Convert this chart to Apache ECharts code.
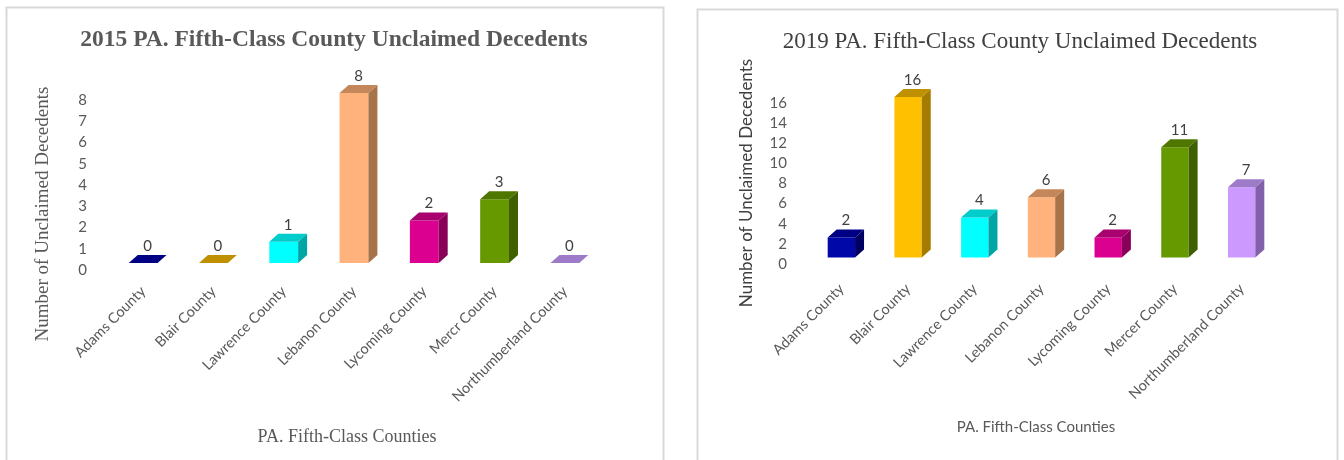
<!DOCTYPE html>
<html>
<head>
<meta charset="utf-8">
<script src="https://cdn.jsdelivr.net/npm/echarts@6/dist/echarts.min.js"></script>
<style>
  html, body { margin: 0; padding: 0; background: #ffffff; }
  #chart { width: 1344px; height: 460px; }
</style>
</head>
<body>
<div id="chart"></div>
<script>
// Unclaimed decedents in Pennsylvania fifth-class counties
const counties2015 = ['Adams County', 'Blair County', 'Lawrence County', 'Lebanon County', 'Lycoming County', 'Mercr County', 'Northumberland County'];
const decedents2015 = [0, 0, 1, 8, 2, 3, 0];
const yMax2015 = 8;
const yStep2015 = 1;

const counties2019 = ['Adams County', 'Blair County', 'Lawrence County', 'Lebanon County', 'Lycoming County', 'Mercer County', 'Northumberland County'];
const decedents2019 = [2, 16, 4, 6, 2, 11, 7];
const yMax2019 = 16;
const yStep2019 = 2;

// per-county face colours of the 3D columns: front, top, side
const frontColors = ['#0008a8', '#ffc000', '#00ffff', '#ffb27c', '#db0090', '#669900', '#cc99ff'];
const topColors   = ['#000084', '#bf9000', '#00cccc', '#c4875a', '#a8006e', '#4e7700', '#9e7bc9'];
const sideColors  = ['#000062', '#a67c00', '#00a5a5', '#a6734a', '#880058', '#3f6000', '#8261aa'];

const SERIF = '"Liberation Serif", "Times New Roman", serif';
const SANS = 'Lato, "Open Sans", sans-serif';

// draws one pseudo-3D column: front rectangle, top and right side faces, value label
function columnRenderer(depthX, depthY) {
  return function (params, api) {
    const idx = api.value(0);
    const val = api.value(1);
    const base = api.coord([idx, 0]);
    const top = api.coord([idx, val]);
    const band = api.size([1, 0])[0];
    const w = band * 0.41;
    const xl = base[0] - w / 2;
    const xr = base[0] + w / 2;
    const yb = base[1];
    const yt = top[1];
    const children = [];
    if (yb - yt > 0.5) {
      children.push({
        type: 'rect',
        shape: { x: xl, y: yt, width: w, height: yb - yt },
        style: { fill: frontColors[idx] }
      });
      children.push({
        type: 'polygon',
        shape: { points: [[xr, yt], [xr + depthX, yt - depthY], [xr + depthX, yb - depthY], [xr, yb]] },
        style: { fill: sideColors[idx] }
      });
    }
    children.push({
      type: 'polygon',
      shape: { points: [[xl, yt], [xl + depthX, yt - depthY], [xr + depthX, yt - depthY], [xr, yt]] },
      style: { fill: topColors[idx] }
    });
    children.push({
      type: 'text',
      style: {
        text: String(val),
        x: base[0] + depthX / 2,
        y: yt - 17,
        align: 'center',
        verticalAlign: 'middle',
        fontFamily: SANS,
        fontSize: 15,
        fill: '#404040'
      }
    });
    return { type: 'group', children: children };
  };
}

function hiddenCategoryAxis(gridIndex, cats) {
  return { type: 'category', gridIndex: gridIndex, data: cats, show: false };
}

const chart = echarts.init(document.getElementById('chart'), null, { renderer: 'canvas' });

chart.setOption({
  animation: false,
  backgroundColor: '#ffffff',
  grid: [
    // columns, 2015
    { left: 108, right: 744, top: 93, bottom: 197 },
    // value scale, 2015
    { left: 108, right: 744, top: 100, bottom: 190 },
    // columns, 2019
    { left: 808, right: 69, top: 97, bottom: 202.5 },
    // value scale, 2019
    { left: 808, right: 69, top: 103, bottom: 196 }
  ],
  xAxis: [
    {
      type: 'category', gridIndex: 0, data: counties2015,
      axisLine: { show: false }, axisTick: { show: false },
      axisLabel: { rotate: 45, margin: 26, interval: 0, fontFamily: SANS, fontSize: 14.5, color: '#595959' }
    },
    hiddenCategoryAxis(1, counties2015),
    {
      type: 'category', gridIndex: 2, data: counties2019,
      axisLine: { show: false }, axisTick: { show: false },
      axisLabel: { rotate: 45, margin: 29, interval: 0, fontFamily: SANS, fontSize: 14.5, color: '#595959' }
    },
    hiddenCategoryAxis(3, counties2019)
  ],
  yAxis: [
    { type: 'value', gridIndex: 0, min: 0, max: yMax2015, interval: yStep2015, show: false },
    {
      type: 'value', gridIndex: 1, min: 0, max: yMax2015, interval: yStep2015,
      axisLine: { show: false }, axisTick: { show: false }, splitLine: { show: false },
      axisLabel: { margin: 21, fontFamily: SANS, fontSize: 15, color: '#595959' }
    },
    { type: 'value', gridIndex: 2, min: 0, max: yMax2019, interval: yStep2019, show: false },
    {
      type: 'value', gridIndex: 3, min: 0, max: yMax2019, interval: yStep2019,
      axisLine: { show: false }, axisTick: { show: false }, splitLine: { show: false },
      axisLabel: { margin: 21, fontFamily: SANS, fontSize: 15, color: '#595959' }
    }
  ],
  series: [
    {
      type: 'custom', name: '2015', xAxisIndex: 0, yAxisIndex: 0,
      renderItem: columnRenderer(9, 8),
      encode: { x: 0, y: 1 },
      data: decedents2015.map((v, i) => [i, v])
    },
    {
      type: 'custom', name: '2019', xAxisIndex: 2, yAxisIndex: 2,
      renderItem: columnRenderer(9, 8),
      encode: { x: 0, y: 1 },
      data: decedents2019.map((v, i) => [i, v])
    }
  ],
  graphic: [
    // panel frames
    { type: 'rect', shape: { x: 6.5, y: 7.5, width: 657, height: 470 }, style: { fill: 'none', stroke: '#d9d9d9', lineWidth: 2 } },
    { type: 'rect', shape: { x: 697.5, y: 9.5, width: 640, height: 470 }, style: { fill: 'none', stroke: '#d9d9d9', lineWidth: 2 } },
    // 2015 panel texts
    { type: 'text', x: 334, y: 40, style: { text: '2015 PA. Fifth-Class County Unclaimed Decedents', align: 'center', verticalAlign: 'middle', fontFamily: SERIF, fontWeight: 'bold', fontSize: 23.5, fill: '#595959' } },
    { type: 'text', x: 43, y: 214, rotation: Math.PI / 2, style: { text: 'Number of Unclaimed Decedents', align: 'center', verticalAlign: 'middle', fontFamily: SERIF, fontSize: 19, fill: '#595959' } },
    { type: 'text', x: 347, y: 437, style: { text: 'PA. Fifth-Class Counties', align: 'center', verticalAlign: 'middle', fontFamily: SERIF, fontSize: 18, fill: '#595959' } },
    // 2019 panel texts
    { type: 'text', x: 1020, y: 42, style: { text: '2019 PA. Fifth-Class County Unclaimed Decedents', align: 'center', verticalAlign: 'middle', fontFamily: SERIF, fontSize: 23, fill: '#404040' } },
    { type: 'text', x: 747, y: 183, rotation: Math.PI / 2, style: { text: 'Number of Unclaimed Decedents', align: 'center', verticalAlign: 'middle', fontFamily: SANS, fontSize: 17, fill: '#404040' } },
    { type: 'text', x: 1036, y: 427, style: { text: 'PA. Fifth-Class Counties', align: 'center', verticalAlign: 'middle', fontFamily: SANS, fontSize: 15, fill: '#595959' } }
  ]
});
</script>
</body>
</html>
